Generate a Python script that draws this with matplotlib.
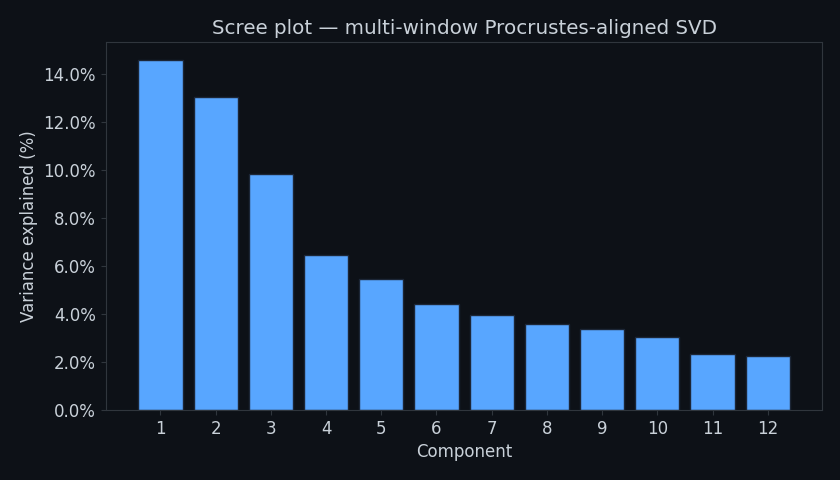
import matplotlib
matplotlib.use("Agg")
import matplotlib.pyplot as plt
from matplotlib.ticker import PercentFormatter

components = list(range(1, 13))
variance_pct = [14.58, 13.04, 9.82, 6.44, 5.47, 4.43, 3.97, 3.59, 3.38, 3.05, 2.34, 2.26]

bg = "#0d1117"
spine = "#30363d"
text_c = "#c9d1d9"
bar_c = "#58a6ff"

fig, ax = plt.subplots(figsize=(8.4, 4.8), dpi=100)
fig.patch.set_facecolor(bg)
ax.set_facecolor(bg)

ax.bar(components, variance_pct, width=0.8, color=bar_c, edgecolor="#1c2636", linewidth=1)

ax.set_xticks(components)
ax.yaxis.set_major_formatter(PercentFormatter(decimals=1))
ax.set_title("Scree plot — multi-window Procrustes-aligned SVD", color=text_c, fontsize=14.3)
ax.set_xlabel("Component", color=text_c, fontsize=12)
ax.set_ylabel("Variance explained (%)", color=text_c, fontsize=12)

for s in ax.spines.values():
    s.set_color(spine)
ax.tick_params(colors=text_c, labelsize=12)
ax.tick_params(axis="both", color=spine)

plt.subplots_adjust(left=0.126, right=0.979, top=0.912, bottom=0.146)
fig.savefig("out.png", facecolor=bg)
